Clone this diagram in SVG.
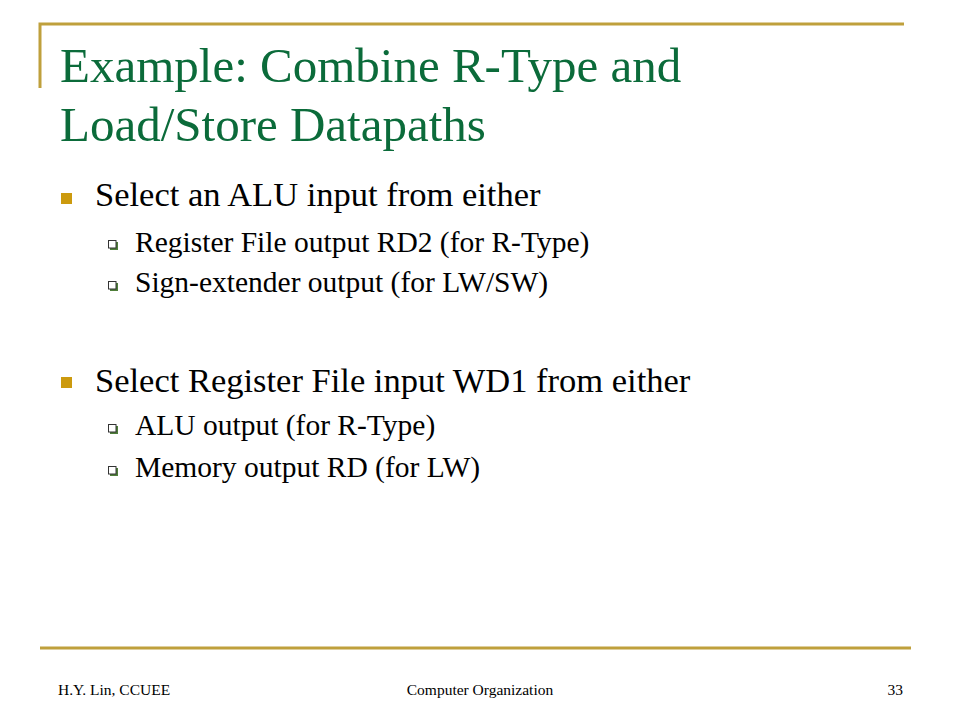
<svg xmlns="http://www.w3.org/2000/svg" width="960" height="720" viewBox="0 0 960 720">
<style>
.rule{stroke:#BFA03C;stroke-width:3;fill:none}
.title{font-family:"Liberation Serif",serif;font-size:49px;fill:#0B6B3A}
.l1{font-family:"Liberation Serif",serif;font-size:34.5px;fill:#000}
.l2{font-family:"Liberation Serif",serif;font-size:29.5px;fill:#000}
.foot{font-family:"Liberation Serif",serif;font-size:15.5px;fill:#000}
.b1{fill:#CC9A0E}
.b2s{fill:#4F7F3A}
.b2{fill:#fff;stroke:#333;stroke-width:1}
</style>
<defs>
<g id="sub">
<rect class="b2s" x="2" y="2" width="8" height="8"/>
<rect class="b2" x="0.5" y="0.5" width="7.5" height="7.5"/>
</g>
</defs>
<rect width="960" height="720" fill="#fff"/>
<g id="frame">
<path class="rule" d="M40 88 V24 H904"/>
<path class="rule" d="M40 648 H911"/>
</g>
<g id="title">
<text class="title" x="60" y="82">Example: Combine R-Type and</text>
<text class="title" x="60" y="141">Load/Store Datapaths</text>
</g>
<g id="bullets">
<rect class="b1" x="61" y="193" width="11" height="11"/>
<text class="l1" x="95" y="206">Select an ALU input from either</text>
<use href="#sub" x="108" y="240"/>
<text class="l2" x="135" y="252">Register File output RD2 (for R-Type)</text>
<use href="#sub" x="108" y="281"/>
<text class="l2" x="135" y="292">Sign-extender output (for LW/SW)</text>
<rect class="b1" x="61" y="377" width="11" height="11"/>
<text class="l1" x="95" y="392">Select Register File input WD1 from either</text>
<use href="#sub" x="108" y="424"/>
<text class="l2" x="135" y="435">ALU output (for R-Type)</text>
<use href="#sub" x="108" y="466"/>
<text class="l2" x="135" y="477">Memory output RD (for LW)</text>
</g>
<g id="footer">
<text class="foot" x="58" y="695">H.Y. Lin, CCUEE</text>
<text class="foot" x="480" y="695" text-anchor="middle">Computer Organization</text>
<text class="foot" x="903" y="695" text-anchor="end">33</text>
</g>
</svg>
